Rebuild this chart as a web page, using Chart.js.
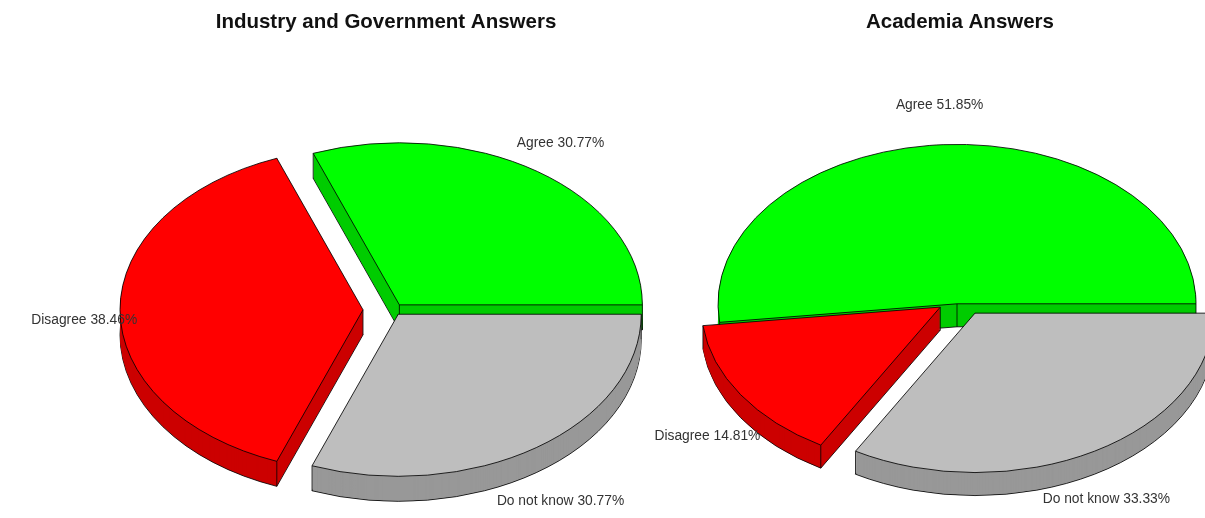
<!DOCTYPE html>
<html><head><meta charset="utf-8">
<script src="https://cdn.jsdelivr.net/npm/chart.js@4.4.1/dist/chart.umd.min.js"></script>
<style>
html,body{margin:0;padding:0;background:#fff;overflow:hidden;width:1205px;height:518px;}
.box{position:absolute;top:0;height:518px;}
#leftBox{left:0;width:772px;}
#rightBox{left:640px;width:640px;}
</style></head><body>
<div class="box" id="leftBox"><canvas id="c1" width="772" height="518"></canvas></div>
<div class="box" id="rightBox"><canvas id="c2" width="640" height="518"></canvas></div>
<script>
// ---- data ----
const categories = ['Agree', 'Disagree', 'Do not know'];
const industryValues = [30.77, 38.46, 30.77];
const academiaValues = [51.85, 14.81, 33.33];
const chartTitles = ['Industry and Government Answers', 'Academia Answers'];

// ---- style (per category, same order as categories) ----
const topColors = ['#00FF00', '#FF0000', '#BEBEBE'];
const wallColors = ['#00CC00', '#CC0000', '#989898'];

// Chart.js draws clockwise; the reference runs counter-clockwise from 3 o'clock,
// so the category order is reversed for the library.
const rev = a => a.slice().reverse();

const pie3d = {
  id: 'pie3d',
  beforeDatasetsDraw(chart, args, o) {
    const ctx = chart.ctx;
    const arcs = chart.getDatasetMeta(0).data;
    const labels = chart.data.labels;
    const values = chart.data.datasets[0].data;
    const n = arcs.length;
    const midOf = i => (arcs[i].startAngle + arcs[i].endAngle) / 2;
    const shiftOf = i => {
      const m = midOf(i), e = o.explode[i];
      return {x: o.dx + Math.cos(m) * e, y: Math.sin(m) * e * o.explodeY};
    };
    const place = (i, drop) => {
      const a = arcs[i], s = shiftOf(i);
      ctx.translate(a.x + s.x, a.y + s.y + drop);
      ctx.scale(1, o.ratio);
      ctx.translate(-a.x, -a.y);
    };
    const toScreen = (i, px, py) => {
      const a = arcs[i], s = shiftOf(i);
      return {x: a.x + s.x + (px - a.x), y: a.y + s.y + (py - a.y) * o.ratio};
    };
    const paint = (i, opts) => {
      const p = Object.create(arcs[i]);
      p.options = Object.assign({}, arcs[i].options, opts);
      p.draw(ctx);
    };
    const order = [...Array(n).keys()].sort((p, q) => Math.sin(midOf(p)) - Math.sin(midOf(q)));
    // side walls, back to front
    for (const i of order) {
      for (let k = o.depth; k >= 1; k--) {
        ctx.save(); place(i, k);
        paint(i, {backgroundColor: o.wall[i], borderWidth: k === o.depth ? 1 : 0, borderColor: '#000'});
        ctx.restore();
      }
      const a = arcs[i], r = a.outerRadius;
      const pts = [[a.x, a.y],
        [a.x + Math.cos(a.startAngle) * r, a.y + Math.sin(a.startAngle) * r],
        [a.x + Math.cos(a.endAngle) * r, a.y + Math.sin(a.endAngle) * r]];
      ctx.save();
      ctx.strokeStyle = '#000'; ctx.lineWidth = 0.8;
      for (const [px, py] of pts) {
        const s = toScreen(i, px, py);
        ctx.beginPath(); ctx.moveTo(s.x, s.y); ctx.lineTo(s.x, s.y + o.depth); ctx.stroke();
      }
      ctx.restore();
    }
    // top faces
    for (let i = 0; i < n; i++) {
      ctx.save(); place(i, 0); paint(i, {}); ctx.restore();
    }
    // labels
    ctx.save();
    ctx.font = o.labelFont; ctx.fillStyle = o.labelColor;
    ctx.textAlign = 'center'; ctx.textBaseline = 'middle';
    for (let i = 0; i < n; i++) {
      const a = arcs[i], m = midOf(i), s = Math.sin(m), c = Math.cos(m);
      const x = a.x + o.dx + c * a.outerRadius * o.labelRad;
      const drop = s > 0.1 ? o.depth : (s > -0.1 ? 0.4 * o.depth : 0);
      const y = a.y + s * a.outerRadius * o.ratio * o.labelRad + drop;
      ctx.fillText(labels[i] + ' ' + values[i].toFixed(2) + '%', x, y);
    }
    ctx.restore();
    return false;
  }
};

function makePie(id, title, values, cfg) {
  return new Chart(document.getElementById(id), {
    type: 'pie',
    data: {
      labels: rev(categories),
      datasets: [{
        data: rev(values),
        backgroundColor: rev(topColors),
        borderColor: '#000',
        borderWidth: 1,
        rotation: 90,
        radius: cfg.radius
      }]
    },
    options: {
      responsive: false,
      animation: false,
      events: [],
      plugins: {
        legend: {display: false},
        tooltip: {enabled: false},
        title: {
          display: true, text: title, color: '#111',
          font: {family: 'Liberation Sans, Arial, sans-serif', size: 20.5, weight: 'bold'},
          padding: {top: 10, bottom: cfg.titleGap}
        },
        pie3d: {
          ratio: 0.667, depth: cfg.depth, dx: cfg.dx,
          explode: rev(cfg.explode), explodeY: 0.3,
          wall: rev(wallColors), labelRad: 1.25,
          labelFont: '13.8px "Liberation Sans", Arial, sans-serif', labelColor: '#333'
        }
      }
    },
    plugins: [pie3d]
  });
}

makePie('c1', chartTitles[0], industryValues,
  {radius: 243, depth: 25, dx: 2, titleGap: 67, explode: [20, 25, 18]});
makePie('c2', chartTitles[1], academiaValues,
  {radius: 239, depth: 23, dx: -3, titleGap: 55, explode: [0, 20, 36]});
</script>
</body></html>
